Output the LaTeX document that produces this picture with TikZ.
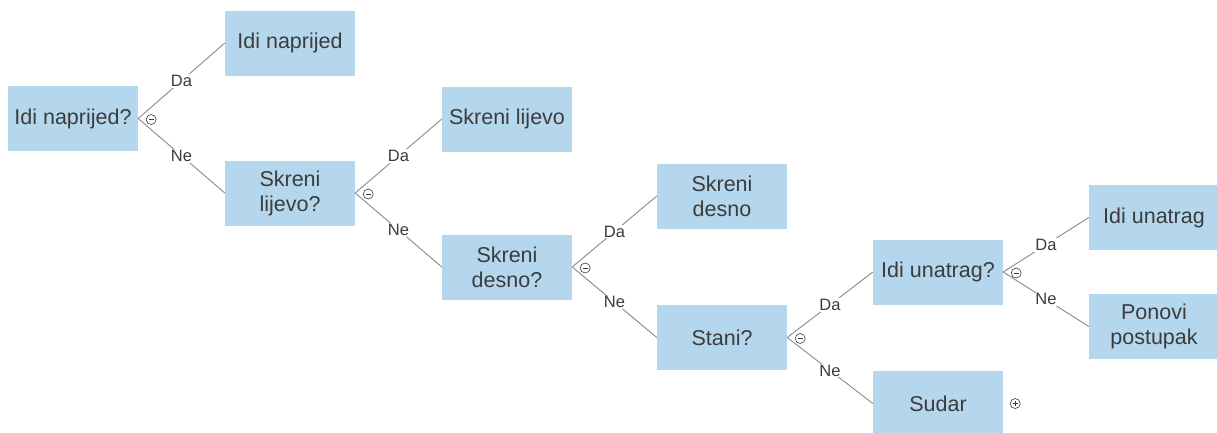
\documentclass[tikz,border=0pt]{standalone}
\usepackage{fontspec}
\setmainfont{Liberation Sans}
\definecolor{boxblue}{HTML}{B4D7EE}
\definecolor{txtgray}{HTML}{3C3C3C}
\definecolor{linegray}{HTML}{8A8A8A}
\tikzset{
  box/.style={rectangle, fill=boxblue, text=txtgray, minimum width=130pt,
    minimum height=65pt, align=center, inner sep=0pt,
    font=\fontsize{21.5}{25}\selectfont},
  lbl/.style={fill=white, text=txtgray, inner sep=1pt,
    font=\fontsize{16.5}{19}\selectfont},
  edge/.style={draw=linegray, line width=0.9pt},
  toggle/.style={circle, draw=txtgray, line width=0.6pt, minimum size=10pt,
    inner sep=0pt}
}
\begin{document}
\begin{tikzpicture}[x=1pt, y=-1pt]
  \useasboundingbox (0,0) rectangle (1217,432);
  % question boxes
  \node[box] (q1) at (73,118.5) {Idi naprijed?};
  \node[box] (q2) at (290,193) {Skreni\\lijevo?};
  \node[box] (q3) at (507,267) {Skreni\\desno?};
  \node[box] (q4) at (722,337.5) {Stani?};
  \node[box] (q5) at (938,272) {Idi unatrag?};
  % answer boxes
  \node[box] (a1) at (290,43) {Idi naprijed};
  \node[box] (a2) at (507,119) {Skreni lijevo};
  \node[box] (a3) at (722,196) {Skreni\\desno};
  \node[box] (a4) at (938,403.5) {Sudar};
  \node[box] (a6) at (1154,217.5) {Idi unatrag};
  \node[box] (a7) at (1154,326.5) {Ponovi\\postupak};
  % branches
  \foreach \p/\d/\n in {q1/a1/q2, q2/a2/q3, q3/a3/q4, q4/q5/a4, q5/a6/a7} {
    \draw[edge] (\p.east) -- node[lbl] {Da} (\d.west);
    \draw[edge] (\p.east) -- node[lbl] {Ne} (\n.west);
    \node[toggle, path picture={\draw[txtgray, line width=0.6pt]
      ([xshift=2.5pt]path picture bounding box.west) --
      ([xshift=-2.5pt]path picture bounding box.east);}]
      (t\p) at ([xshift=13pt, yshift=-1pt]\p.east) {};
  }
  \node[toggle, path picture={\draw[txtgray, line width=0.6pt]
    ([xshift=2.5pt]path picture bounding box.west) --
    ([xshift=-2.5pt]path picture bounding box.east)
    ([yshift=-2.5pt]path picture bounding box.north) --
    ([yshift=2.5pt]path picture bounding box.south);}]
    (ta4) at ([xshift=12pt]a4.east) {};
\end{tikzpicture}
\end{document}
